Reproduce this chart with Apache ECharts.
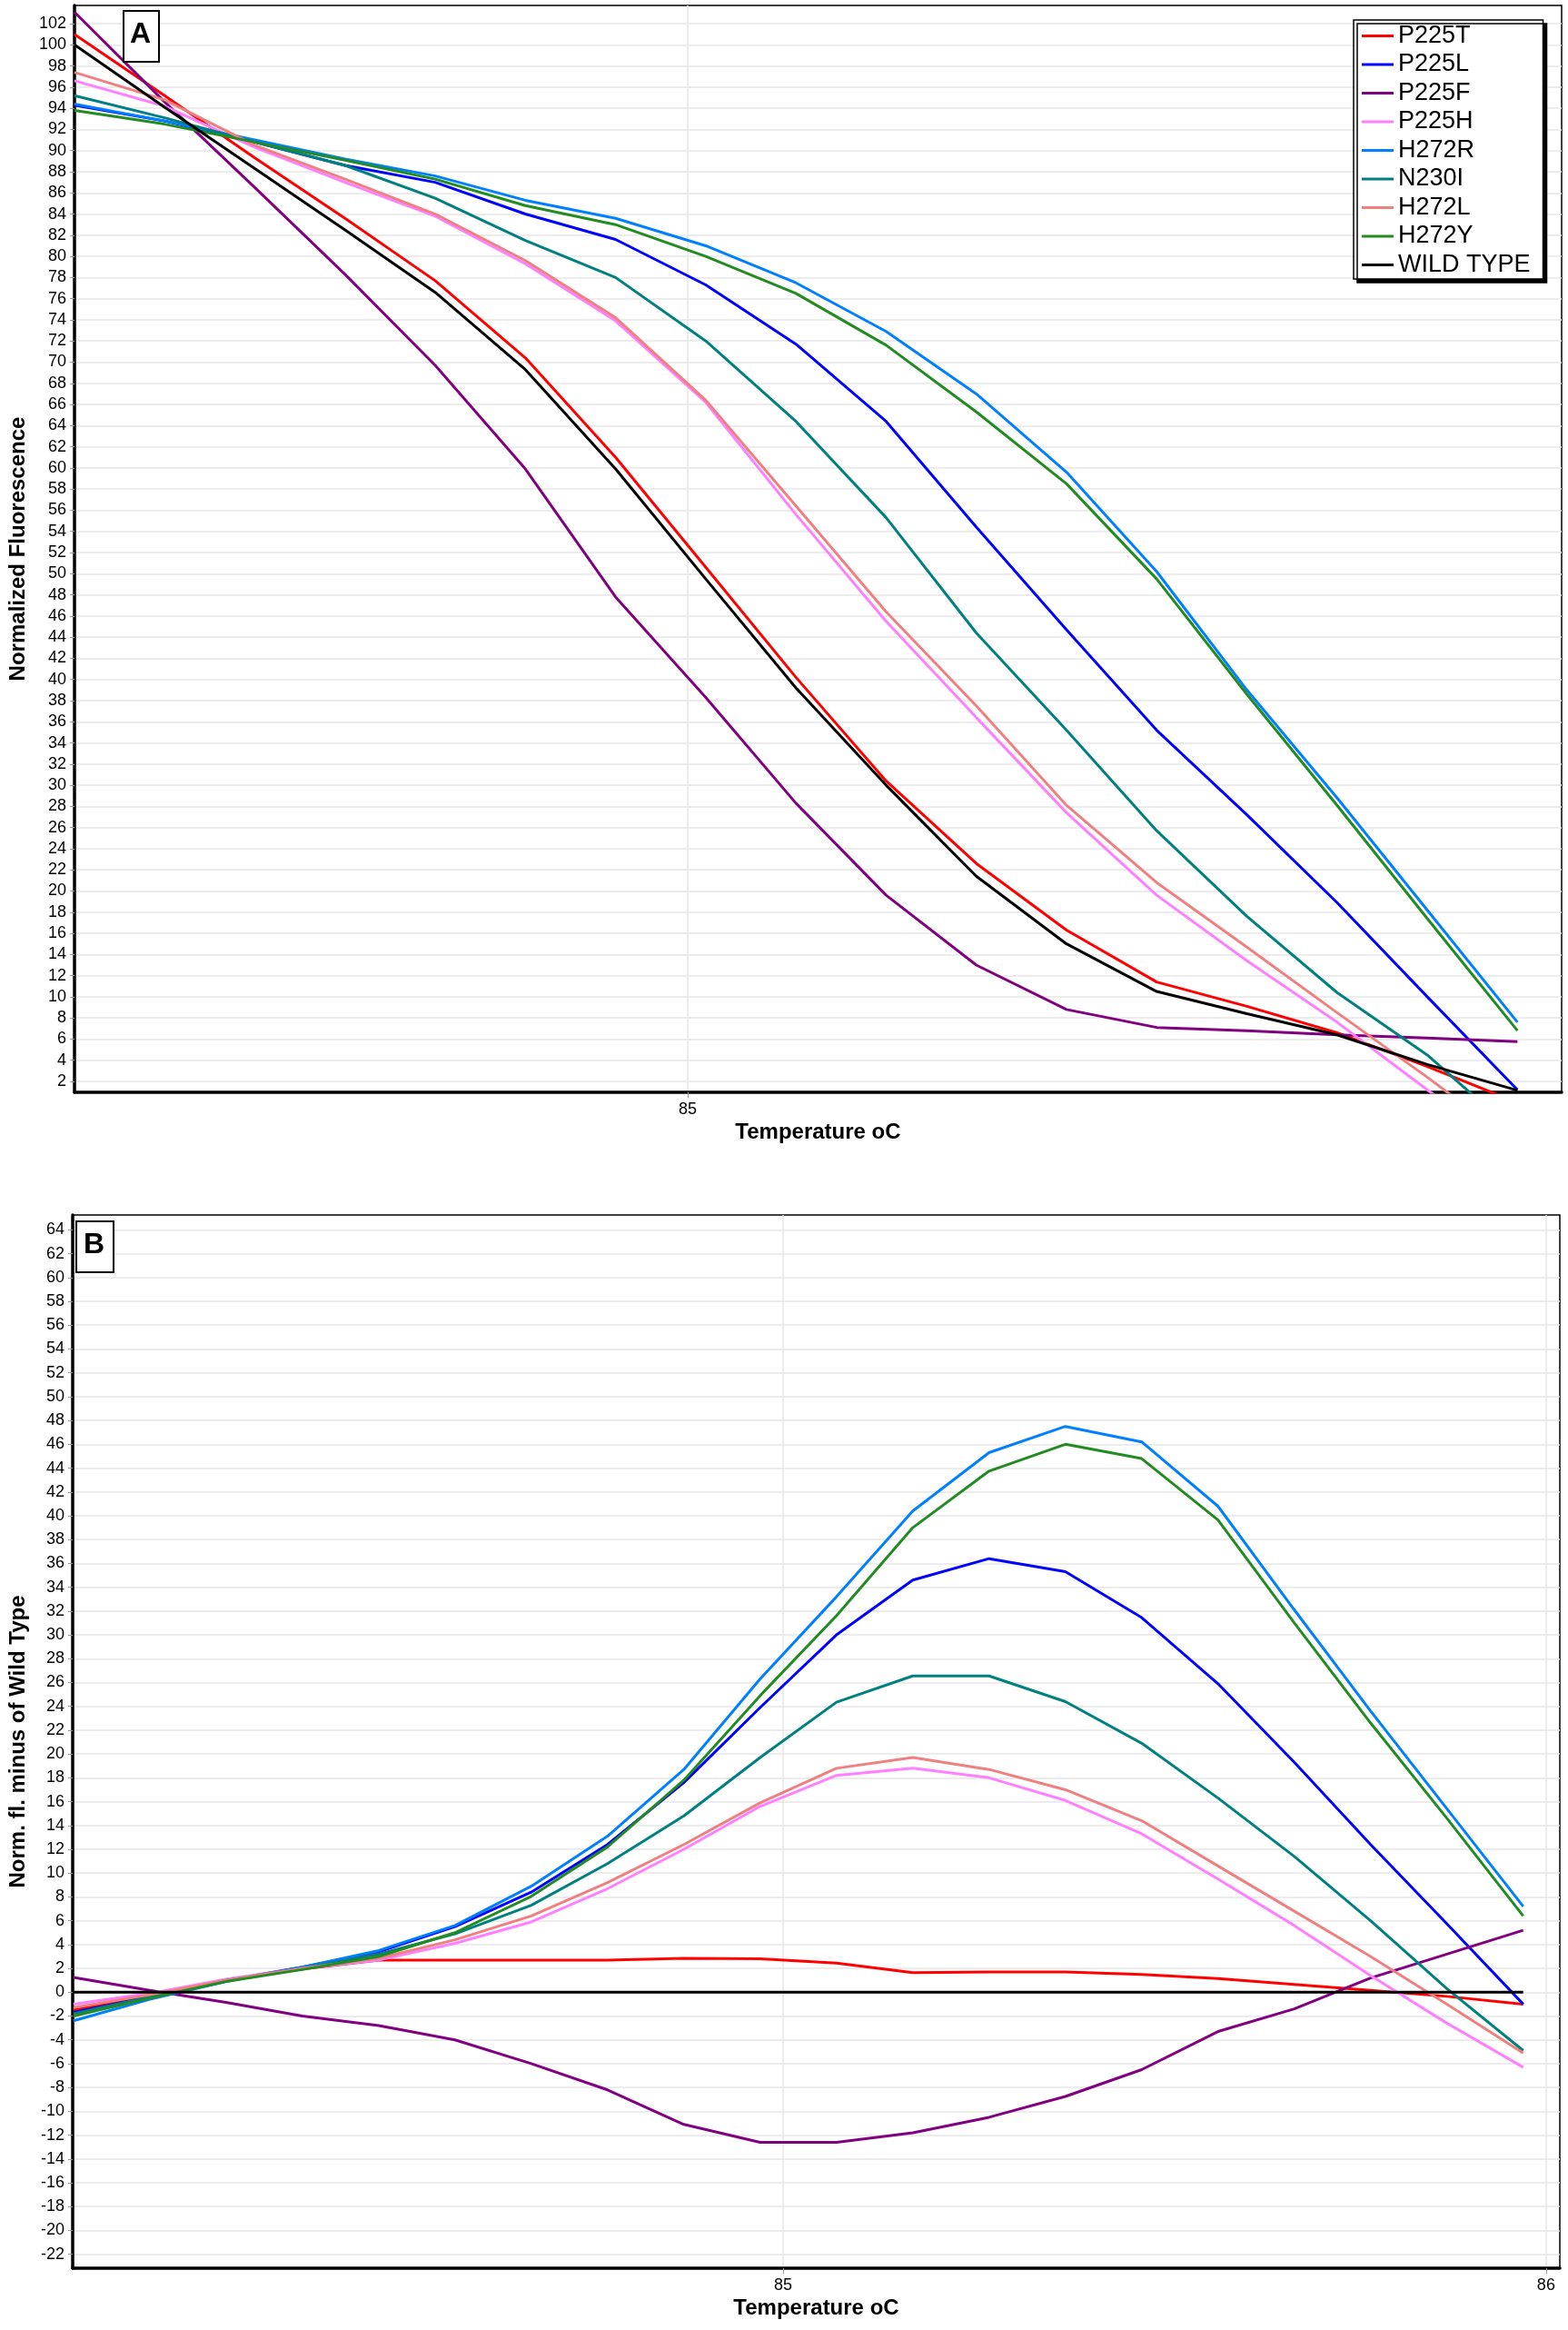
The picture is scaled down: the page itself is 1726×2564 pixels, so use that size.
<!DOCTYPE html>
<html>
<head>
<meta charset="utf-8">
<title>Melt curves</title>
<script src="https://cdn.jsdelivr.net/npm/echarts@6/dist/echarts.min.js"></script>
<style>
    html, body { margin: 0; padding: 0; background: #fff; }
    #chart { width: 1726px; height: 2564px; }
</style>
</head>
<body>
<div id="chart"></div>
<script>
// panel A: normalized fluorescence
var tempsA = [84.32, 84.42, 84.52, 84.62, 84.72, 84.82, 84.92, 85.02, 85.12, 85.22, 85.32, 85.42, 85.52, 85.62, 85.72, 85.82, 85.92];
var fluorP225T = [101.0, 95.2, 89.3, 83.6, 77.7, 70.4, 61.0, 50.6, 40.2, 30.4, 22.6, 16.3, 11.4, 9.1, 6.6, 3.4, 0.0];
var fluorP225L = [94.3, 92.8, 90.8, 88.6, 87.0, 84.0, 81.6, 77.3, 71.7, 64.4, 54.4, 44.7, 35.2, 27.2, 18.9, 10.0, 1.2];
var fluorP225F = [103.1, 94.6, 86.5, 78.3, 69.7, 59.9, 47.8, 38.3, 28.3, 19.6, 13.0, 8.8, 7.1, 6.8, 6.4, 6.1, 5.75];
var fluorP225H = [96.6, 94.2, 90.3, 87.0, 83.8, 79.3, 73.9, 66.2, 55.6, 45.5, 36.4, 27.4, 19.6, 13.4, 7.6, 1.2, -5.0];
var fluorH272R = [94.4, 92.8, 91.0, 89.2, 87.6, 85.3, 83.6, 81.0, 77.5, 72.9, 67.0, 59.6, 50.2, 39.0, 28.8, 18.2, 7.6];
var fluorN230I = [95.2, 93.1, 90.8, 88.6, 85.5, 81.5, 78.0, 72.0, 64.4, 55.3, 44.4, 35.2, 25.7, 17.6, 10.4, 4.5, -3.0];
var fluorH272L = [97.4, 94.8, 90.5, 87.3, 84.0, 79.6, 74.2, 66.4, 56.4, 46.4, 37.5, 28.1, 20.8, 14.7, 8.5, 2.4, -4.0];
var fluorH272Y = [93.8, 92.5, 90.8, 89.1, 87.3, 84.8, 83.0, 80.0, 76.5, 71.6, 65.3, 58.5, 49.5, 38.6, 28.1, 17.4, 6.8];
var fluorWT    = [100.0, 94.1, 88.3, 82.5, 76.6, 69.3, 59.9, 49.5, 39.2, 30.0, 21.4, 15.0, 10.5, 8.4, 6.4, 3.6, 1.15];

// panel B: normalized fluorescence minus wild type
var tempsB = [84.07, 84.17, 84.27, 84.37, 84.47, 84.57, 84.67, 84.77, 84.87, 84.97, 85.07, 85.17, 85.27, 85.37, 85.47, 85.57, 85.67, 85.77, 85.87, 85.97];
var diffP225T = [-1.5, -0.3, 1.05, 1.95, 2.7, 2.7, 2.7, 2.7, 2.85, 2.8, 2.45, 1.65, 1.7, 1.7, 1.5, 1.15, 0.65, 0.15, -0.35, -1.0];
var diffP225L = [-1.7, -0.4, 1.0, 2.1, 3.4, 5.5, 8.4, 12.4, 17.6, 23.9, 30.0, 34.6, 36.4, 35.3, 31.45, 25.9, 19.3, 12.4, 5.75, -1.0];
var diffP225F = [1.25, 0.15, -0.85, -2.0, -2.8, -4.0, -6.0, -8.2, -11.1, -12.6, -12.6, -11.8, -10.5, -8.75, -6.5, -3.3, -1.4, 1.2, 3.2, 5.2];
var diffP225H = [-1.0, -0.1, 1.1, 2.0, 2.7, 4.1, 5.9, 8.7, 12.0, 15.6, 18.2, 18.8, 18.0, 16.1, 13.3, 9.5, 5.6, 1.4, -2.6, -6.3];
var diffH272R = [-2.4, -0.6, 0.9, 2.1, 3.5, 5.6, 8.9, 13.1, 18.7, 26.3, 33.2, 40.4, 45.3, 47.5, 46.2, 40.8, 32.1, 23.6, 15.4, 7.2];
var diffN230I = [-1.8, -0.4, 1.0, 2.0, 3.2, 4.9, 7.3, 10.8, 14.8, 19.7, 24.35, 26.55, 26.55, 24.4, 20.9, 16.3, 11.4, 6.0, 0.3, -4.9];
var diffH272L = [-1.3, -0.2, 1.0, 2.0, 2.85, 4.4, 6.4, 9.2, 12.4, 15.9, 18.8, 19.7, 18.7, 17.0, 14.4, 10.6, 6.8, 3.0, -1.0, -5.1];
var diffH272Y = [-2.0, -0.5, 0.9, 1.9, 3.0, 5.0, 8.05, 12.2, 17.8, 24.9, 31.6, 39.0, 43.75, 46.0, 44.8, 39.65, 31.0, 22.6, 14.6, 6.4];
var diffWT    = [0, 0, 0, 0, 0, 0, 0, 0, 0, 0, 0, 0, 0, 0, 0, 0, 0, 0, 0, 0];

var seriesNames = ['P225T', 'P225L', 'P225F', 'P225H', 'H272R', 'N230I', 'H272L', 'H272Y', 'WILD TYPE'];
var seriesColors = ['#ff0000', '#0000ff', '#800080', '#ff80ff', '#0080ff', '#008080', '#f08080', '#228b22', '#000000'];

// tick values
var yTicksA = [2, 4, 6, 8, 10, 12, 14, 16, 18, 20, 22, 24, 26, 28, 30, 32, 34, 36, 38, 40, 42, 44, 46, 48, 50,
    52, 54, 56, 58, 60, 62, 64, 66, 68, 70, 72, 74, 76, 78, 80, 82, 84, 86, 88, 90, 92, 94, 96, 98, 100, 102];
var yTicksB = [-22, -20, -18, -16, -14, -12, -10, -8, -6, -4, -2, 0, 2, 4, 6, 8, 10, 12, 14, 16, 18, 20,
    22, 24, 26, 28, 30, 32, 34, 36, 38, 40, 42, 44, 46, 48, 50, 52, 54, 56, 58, 60, 62, 64];
var xTicksA = [85];
var xTicksB = [85, 86];

var dataA = [fluorP225T, fluorP225L, fluorP225F, fluorP225H, fluorH272R, fluorN230I, fluorH272L, fluorH272Y, fluorWT];
var dataB = [diffP225T, diffP225L, diffP225F, diffP225H, diffH272R, diffN230I, diffH272L, diffH272Y, diffWT];

function pairs(xs, ys) {
    return xs.map(function (x, i) { return [x, ys[i]]; });
}

var labelFont = 'Liberation Sans, Arial, sans-serif';

function makeXAxis(gridIndex, min, max, ticks) {
    return {
        type: 'value', gridIndex: gridIndex, min: min, max: max,
        name: 'Temperature oC', nameLocation: 'middle', nameGap: 32,
        nameTextStyle: { fontFamily: labelFont, fontWeight: 'bold', fontSize: 24, color: '#000' },
        axisLine: { onZero: false, lineStyle: { color: '#000', width: 3.5 } },
        axisTick: { customValues: ticks, length: 6, lineStyle: { color: '#999', width: 1 } },
        axisLabel: { customValues: ticks, margin: 10, fontFamily: labelFont, fontSize: 18, color: '#000' },
        splitLine: { show: true, lineStyle: { color: '#e6e6e6', width: 1.5 } }
    };
}

function makeYAxis(gridIndex, min, max, ticks, name) {
    return {
        type: 'value', gridIndex: gridIndex, min: min, max: max,
        name: name, nameLocation: 'middle', nameGap: 48, nameRotate: 90,
        nameTextStyle: { fontFamily: labelFont, fontWeight: 'bold', fontSize: 24, color: '#000' },
        axisLine: { show: true, onZero: false, lineStyle: { color: '#000', width: 3.5 } },
        axisTick: { show: true, customValues: ticks, length: 5, lineStyle: { color: '#999', width: 1 } },
        axisLabel: { customValues: ticks, margin: 9, fontFamily: labelFont, fontSize: 18, color: '#000' },
        splitLine: { show: true, lineStyle: { color: '#e6e6e6', width: 1.5 } }
    };
}

var series = [];
seriesNames.forEach(function (name, i) {
    series.push({
        name: name, type: 'line', xAxisIndex: 0, yAxisIndex: 0,
        data: pairs(tempsA, dataA[i]),
        showSymbol: false, clip: true,
        lineStyle: { color: seriesColors[i], width: 3 },
        itemStyle: { color: seriesColors[i] }
    });
});
seriesNames.forEach(function (name, i) {
    series.push({
        name: name, type: 'line', xAxisIndex: 1, yAxisIndex: 1,
        data: pairs(tempsB, dataB[i]),
        showSymbol: false, clip: true,
        lineStyle: { color: seriesColors[i], width: 3 },
        itemStyle: { color: seriesColors[i] }
    });
});

var chart = echarts.init(document.getElementById('chart'), null, { renderer: 'canvas' });

chart.setOption({
    animation: false,
    backgroundColor: '#fff',
    grid: [
        { left: 75, top: 6, width: 1644, height: 1196, show: true, borderColor: '#000', borderWidth: 1.5, backgroundColor: '#fff' },
        { left: 70, top: 1337, width: 1647, height: 1159, show: true, borderColor: '#000', borderWidth: 1.5, backgroundColor: '#fff' }
    ],
    xAxis: [
        makeXAxis(0, 84.32, 85.969, xTicksA),
        makeXAxis(1, 84.069, 86.018, xTicksB)
    ],
    yAxis: [
        makeYAxis(0, 0.97, 103.72, yTicksA, 'Normalized Fluorescence'),
        makeYAxis(1, -23.17, 65.25, yTicksB, 'Norm. fl. minus of Wild Type')
    ],
    legend: {
        data: seriesNames,
        orient: 'vertical',
        left: 1490, top: 22,
        padding: [4, 14, 2, 9],
        itemWidth: 35, itemHeight: 3, itemGap: 4.5,
        icon: 'rect',
        selectedMode: false,
        backgroundColor: '#fff',
        borderColor: '#000', borderWidth: 1.5,
        shadowColor: '#000', shadowBlur: 0, shadowOffsetX: 4, shadowOffsetY: 4,
        textStyle: { fontFamily: labelFont, fontSize: 27, lineHeight: 26, color: '#000' }
    },
    graphic: [
        { type: 'rect', left: 135, top: 11, shape: { width: 39, height: 56 }, style: { fill: '#fff', stroke: '#000', lineWidth: 2 }, z: 100 },
        { type: 'text', left: 143, top: 22, style: { text: 'A', font: 'bold 32px ' + labelFont, fill: '#000' }, z: 101 },
        { type: 'rect', left: 83, top: 1343, shape: { width: 41, height: 56 }, style: { fill: '#fff', stroke: '#000', lineWidth: 2 }, z: 100 },
        { type: 'text', left: 92, top: 1354, style: { text: 'B', font: 'bold 32px ' + labelFont, fill: '#000' }, z: 101 }
    ],
    series: series
});

window.addEventListener('resize', function () {
    chart.resize();
});
</script>
</body>
</html>
